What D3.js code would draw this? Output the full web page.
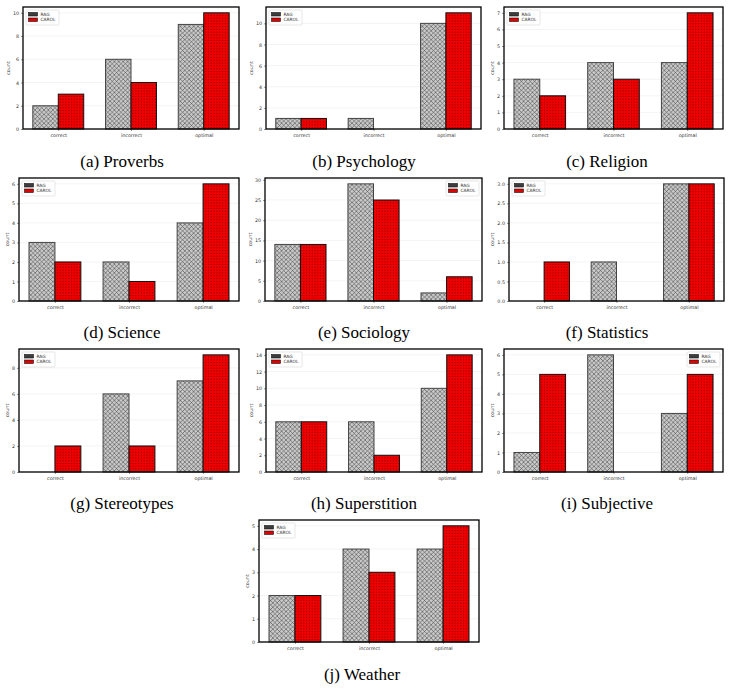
<!DOCTYPE html>
<html>
<head>
<meta charset="utf-8">
<script src="https://cdn.jsdelivr.net/npm/d3@7"></script>
<style>
  body { margin: 0; background: #fff; }
</style>
</head>
<body>
<div id="chart"></div>
<script>
// categories and series
var categories = ["correct", "incorrect", "optimal"];
var seriesNames = ["RAG", "CAROL"];
var panelNames = ["(a) Proverbs", "(b) Psychology", "(c) Religion", "(d) Science", "(e) Sociology",
                  "(f) Statistics", "(g) Stereotypes", "(h) Superstition", "(i) Subjective", "(j) Weather"];

var ragValues = [
    [2, 6, 9],
    [1, 1, 10],
    [3, 4, 4],
    [3, 2, 4],
    [14, 29, 2],
    [0, 1, 3],
    [0, 6, 7],
    [6, 6, 10],
    [1, 6, 3],
    [2, 4, 4]
];
var carolValues = [
    [3, 4, 10],
    [1, 0, 11],
    [2, 3, 7],
    [2, 1, 6],
    [14, 25, 6],
    [1, 0, 3],
    [2, 2, 9],
    [6, 2, 14],
    [5, 0, 5],
    [2, 3, 5]
];

// y tick labels per panel
var yTicks = [
    [0, 2, 4, 6, 8, 10],
    [0, 2, 4, 6, 8, 10],
    [0, 1, 2, 3, 4, 5, 6, 7],
    [0, 1, 2, 3, 4, 5, 6],
    [0, 5, 10, 15, 20, 25, 30],
    [0, 0.5, 1.0, 1.5, 2.0, 2.5, 3.0],
    [0, 2, 4, 6, 8],
    [0, 2, 4, 6, 8, 10, 12, 14],
    [0, 1, 2, 3, 4, 5, 6],
    [0, 1, 2, 3, 4, 5]
];
var tickFormats = ["d", "d", "d", "d", "d", ".1f", "d", "d", "d", "d"];

// frame boxes of each panel (left, right, top, bottom), caption centre and legend corner
var layout = [
    { l: 23, r: 239, t: 7, b: 129, cx: 122, cy: 167, leg: "left" },
    { l: 266, r: 481, t: 7, b: 129, cx: 364, cy: 167, leg: "left" },
    { l: 504, r: 723, t: 7, b: 129, cx: 607, cy: 167, leg: "left" },
    { l: 19, r: 239, t: 178, b: 301, cx: 122, cy: 338, leg: "left" },
    { l: 265, r: 482, t: 178, b: 301, cx: 364, cy: 338, leg: "right" },
    { l: 509, r: 724, t: 178, b: 301, cx: 607, cy: 338, leg: "left" },
    { l: 19, r: 239, t: 349, b: 472, cx: 122, cy: 509, leg: "left" },
    { l: 266, r: 482, t: 349, b: 472, cx: 364, cy: 509, leg: "left" },
    { l: 504, r: 723, t: 349, b: 472, cx: 607, cy: 509, leg: "right" },
    { l: 259, r: 479, t: 520, b: 642, cx: 362, cy: 680, leg: "left" }
];

var barWidth = 0.35;
var fills = ["url(#hatchRag)", "url(#dotsCarol)"];
var edges = ["#444", "#111"];
var sans = "'DejaVu Sans', sans-serif";

var svg = d3.select("#chart").append("svg")
    .attr("width", 731)
    .attr("height", 690);

// hatch patterns
var defs = svg.append("defs");
var hp = defs.append("pattern")
    .attr("id", "hatchRag")
    .attr("patternUnits", "userSpaceOnUse")
    .attr("width", 4.4).attr("height", 4.4);
hp.append("rect").attr("width", 4.4).attr("height", 4.4).attr("fill", "#cacaca");
hp.append("path")
    .attr("d", "M0,0 L4.4,4.4 M4.4,0 L0,4.4 M-1,3.4 L1,5.4 M3.4,-1 L5.4,1 M-1,1 L1,-1 M3.4,5.4 L5.4,3.4")
    .attr("stroke", "#333")
    .attr("stroke-width", 0.5)
    .attr("fill", "none");

var dp = defs.append("pattern")
    .attr("id", "dotsCarol")
    .attr("patternUnits", "userSpaceOnUse")
    .attr("width", 2.8).attr("height", 2.8);
dp.append("rect").attr("width", 2.8).attr("height", 2.8).attr("fill", "#ee0000");
dp.append("circle").attr("cx", 1.4).attr("cy", 1.4).attr("r", 0.42).attr("fill", "#000");

panelNames.forEach(function (name, p) {
    var box = layout[p];
    var series = [ragValues[p], carolValues[p]];
    var maxVal = d3.max(series, function (s) { return d3.max(s); });

    var x = d3.scaleLinear()
        .domain([-barWidth - 0.135, categories.length - 1 + barWidth + 0.135])
        .range([box.l, box.r]);
    var y = d3.scaleLinear()
        .domain([0, maxVal * 1.05])
        .range([box.b, box.t]);

    var g = svg.append("g").attr("class", "panel");

    // faint grid
    g.selectAll(".grid")
        .data(yTicks[p])
        .enter().append("line")
        .attr("x1", box.l).attr("x2", box.r)
        .attr("y1", function (d) { return y(d); })
        .attr("y2", function (d) { return y(d); })
        .attr("stroke", "#ececec")
        .attr("stroke-width", 0.6);

    // bars (zero values are skipped, but keep their category index)
    series.forEach(function (vals, s) {
        var rows = vals.map(function (v, i) { return { v: v, i: i }; })
            .filter(function (d) { return d.v > 0; });
        g.selectAll(".bar" + s)
            .data(rows)
            .enter().append("rect")
            .attr("class", "bar" + s)
            .attr("x", function (d) { return x(d.i - barWidth + s * barWidth); })
            .attr("y", function (d) { return y(d.v); })
            .attr("width", x(barWidth) - x(0))
            .attr("height", function (d) { return y(0) - y(d.v); })
            .attr("fill", fills[s])
            .attr("stroke", edges[s])
            .attr("stroke-width", 1);
    });

    // y axis
    var yAxis = g.append("g")
        .attr("transform", "translate(" + box.l + ",0)")
        .call(d3.axisLeft(y).tickValues(yTicks[p]).tickFormat(d3.format(tickFormats[p])).tickSize(2).tickPadding(2));
    yAxis.select(".domain").remove();
    yAxis.selectAll("text").attr("font-family", sans).style("font-size", "4.8px").attr("fill", "#333");
    yAxis.selectAll("line").attr("stroke", "#333").attr("stroke-width", 0.5);

    var maxW = 0;
    yAxis.selectAll("text").each(function () {
        maxW = Math.max(maxW, this.getComputedTextLength());
    });

    // x axis
    var xAxis = g.append("g")
        .attr("transform", "translate(0," + box.b + ")")
        .call(d3.axisBottom(x).tickValues(d3.range(categories.length))
            .tickFormat(function (d) { return categories[d]; }).tickSize(2).tickPadding(2.5));
    xAxis.select(".domain").remove();
    xAxis.selectAll("text").attr("font-family", sans).style("font-size", "4.8px").attr("fill", "#333");
    xAxis.selectAll("line").attr("stroke", "#333").attr("stroke-width", 0.5);

    // y label
    g.append("text")
        .attr("transform", "rotate(-90)")
        .attr("x", -(box.t + box.b) / 2)
        .attr("y", box.l - 2 - 2 - maxW - 3)
        .attr("text-anchor", "middle")
        .attr("font-family", sans)
        .style("font-size", "4.8px")
        .attr("fill", "#333")
        .text("count");

    // frame
    g.append("rect")
        .attr("x", box.l).attr("y", box.t)
        .attr("width", box.r - box.l).attr("height", box.b - box.t)
        .attr("fill", "none")
        .attr("stroke", "#000")
        .attr("stroke-width", 1.3);

    // legend
    var legW = 33, legH = 15;
    var lx = box.leg === "left" ? box.l + 3 : box.r - 3 - legW;
    var ly = box.t + 3;
    var leg = g.append("g").attr("transform", "translate(" + lx + "," + ly + ")");
    leg.append("rect")
        .attr("width", legW).attr("height", legH)
        .attr("fill", "#fff").attr("fill-opacity", 0.8)
        .attr("stroke", "#ccc").attr("stroke-width", 0.5).attr("rx", 1);
    seriesNames.forEach(function (sn, s) {
        leg.append("rect")
            .attr("x", 2.5).attr("y", 2.5 + s * 5.5)
            .attr("width", 9).attr("height", 3.5)
            .attr("fill", s === 0 ? "#3d3d3d" : "#e00000")
            .attr("stroke", "#111").attr("stroke-width", 0.6);
        leg.append("text")
            .attr("x", 14.5).attr("y", 4.3 + s * 5.5)
            .attr("dy", "0.35em")
            .attr("font-family", sans)
            .style("font-size", "4.4px")
            .attr("fill", "#333")
            .text(sn);
    });

    // caption
    svg.append("text")
        .attr("x", box.cx)
        .attr("y", box.cy)
        .attr("text-anchor", "middle")
        .attr("font-family", "'Liberation Serif', 'Times New Roman', serif")
        .style("font-size", "17px")
        .attr("fill", "#000")
        .text(name);
});
</script>
</body>
</html>
